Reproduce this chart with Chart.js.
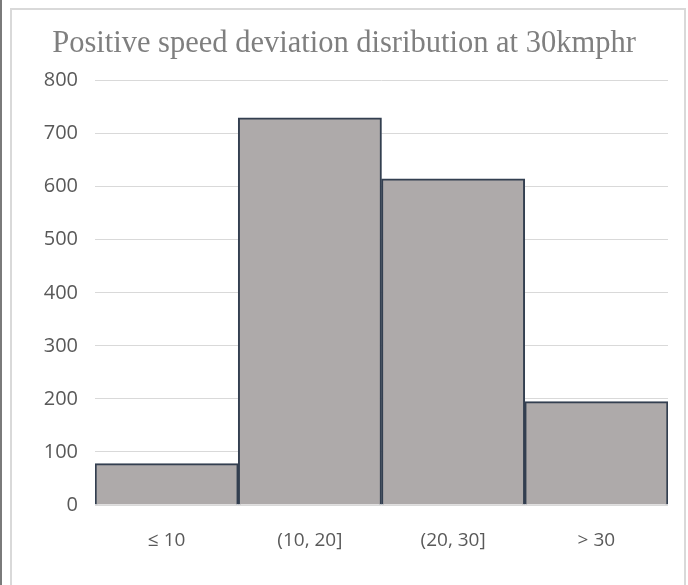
<!DOCTYPE html>
<html>
<head>
  <title>Positive speed deviation</title>
  <script src="https://cdn.jsdelivr.net/npm/chart.js"></script>
  <style>
    body { margin: 0; background: #fff; }
    #edge { position: absolute; left: 0; top: 0; width: 2px; height: 585px; background: #7a7a7a; }
    #frame { position: absolute; left: 10px; top: 8px; width: 672px; height: 600px; border: 2px solid #d9d9d9; }
    #wrap { position: absolute; left: 0; top: 0; }
  </style>
</head>
<body>
  <div id="edge"></div>
  <div id="frame"></div>
  <div id="wrap"><canvas id="histChart" width="688" height="585"></canvas></div>

  <script>
    var categories = ['\u2264 10', '(10, 20]', '(20, 30]', '> 30'];
    var counts = [78, 730, 615, 195];
    var yTicks = [0, 100, 200, 300, 400, 500, 600, 700, 800];

    var ctx = document.getElementById('histChart').getContext('2d');

    var histChart = new Chart(ctx, {
      type: 'bar',
      data: {
        labels: categories,
        datasets: [{
          label: 'Count',
          data: counts,
          backgroundColor: '#aeaaaa',
          borderColor: '#333f50',
          borderWidth: 2,
          categoryPercentage: 1.0,
          barPercentage: 1.0
        }]
      },
      options: {
        responsive: false,
        animation: false,
        layout: {
          padding: { top: 26, right: 20, bottom: 0, left: 20 }
        },
        plugins: {
          legend: { display: false },
          tooltip: { enabled: false },
          title: {
            display: true,
            text: 'Positive speed deviation disribution at 30kmphr',
            color: '#7f7f7f',
            font: { family: 'Liberation Serif', size: 30.5, weight: 'normal' },
            padding: { top: 0, bottom: 18 }
          }
        },
        scales: {
          x: {
            afterFit: function(scale) {
              scale.height = 80;
            },
            grid: { display: false, drawTicks: false },
            border: { display: false },
            ticks: {
              color: '#595959',
              font: { family: 'Open Sans', size: 19 },
              padding: 24,
              maxRotation: 0
            }
          },
          y: {
            min: 0,
            max: 800,
            afterBuildTicks: function(scale) {
              scale.ticks = yTicks.map(function(v) { return { value: v }; });
            },
            afterFit: function(scale) {
              scale.width = 75;
            },
            grid: { color: '#d9d9d9', lineWidth: 1, drawTicks: false },
            border: { display: false },
            ticks: {
              color: '#595959',
              font: { family: 'Open Sans', size: 20 },
              padding: 17
            }
          }
        }
      }
    });
  </script>
</body>
</html>
